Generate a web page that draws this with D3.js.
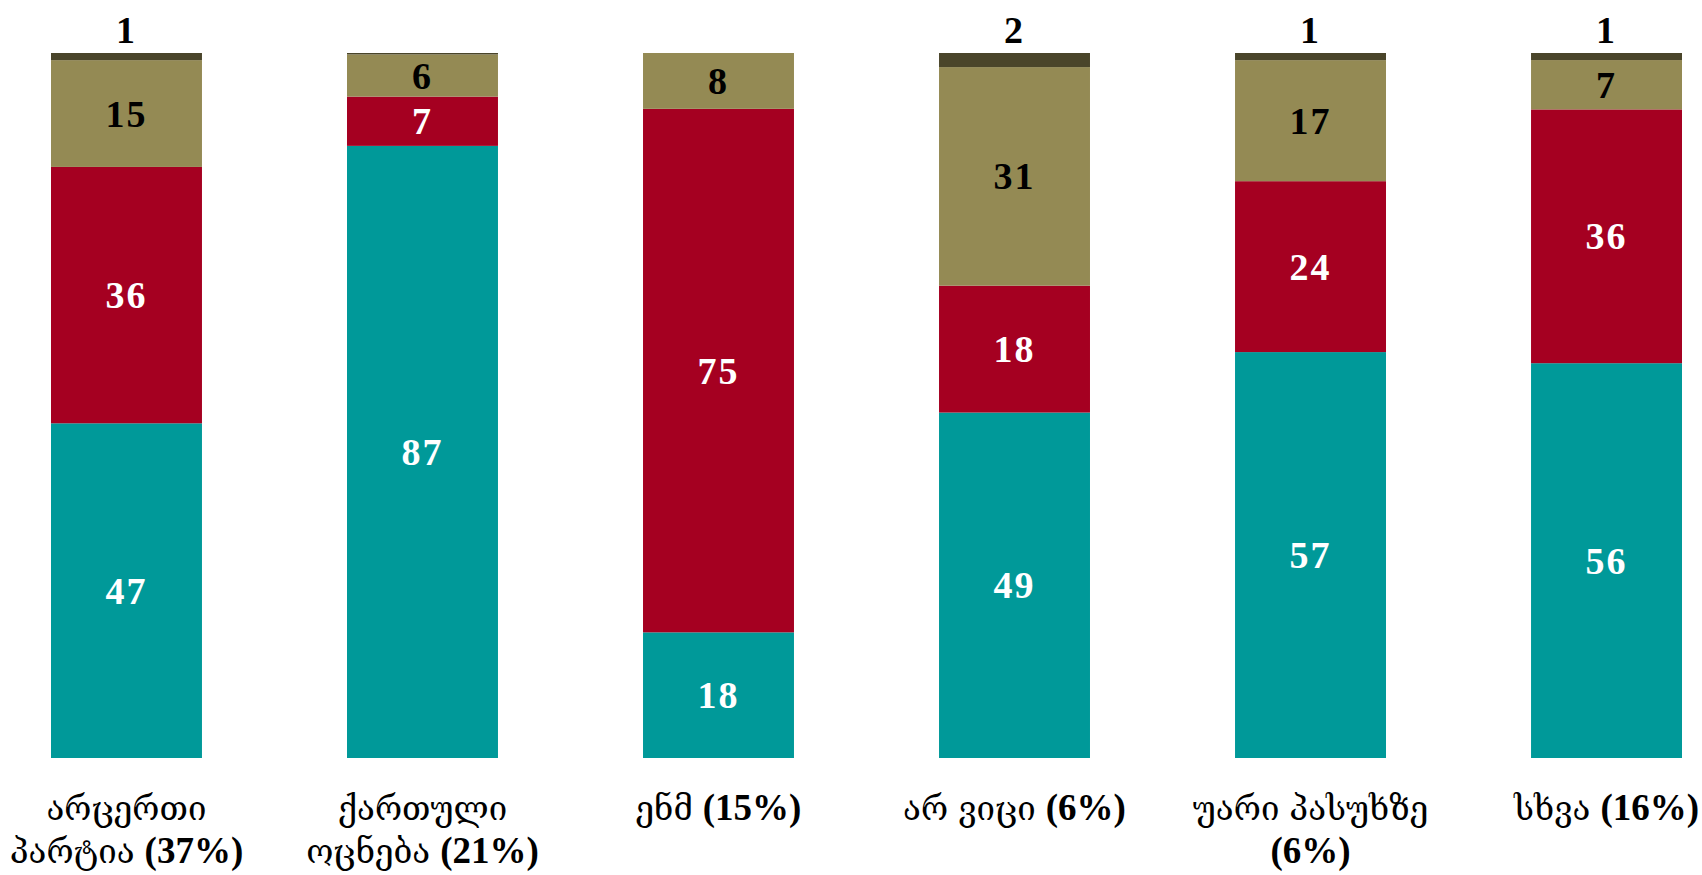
<!DOCTYPE html>
<html>
<head>
<meta charset="utf-8">
<script src="https://cdn.jsdelivr.net/npm/d3@7"></script>
<style>
  html, body { margin: 0; padding: 0; background: #ffffff; }
  svg text { font-family: "Liberation Serif", "DejaVu Serif", serif; }
</style>
</head>
<body>
<svg id="chart" width="1702" height="875"></svg>
<script>
// ---- data ----
const categories = [
  "არცერთი პარტია (37%)",
  "ქართული ოცნება (21%)",
  "ენმ (15%)",
  "არ ვიცი (6%)",
  "უარი პასუხზე (6%)",
  "სხვა (16%)"
];
const seriesKeys = ["s1", "s2", "s3", "s4"];
const s1 = [47, 87, 18, 49, 57, 56];   // teal
const s2 = [36, 7, 75, 18, 24, 36];    // red
const s3 = [15, 6, 8, 31, 17, 7];      // olive
const s4 = [1, 0.2, 0, 2, 1, 1];       // dark
const colors = ["#009999", "#A50021", "#948A54", "#4A452A"];
const labelColors = ["#ffffff", "#ffffff", "#000000", "#000000"];

const rows = categories.map((c, i) => ({ cat: c, s1: s1[i], s2: s2[i], s3: s3[i], s4: s4[i] }));

const svg = d3.select("#chart");

const x = d3.scaleBand().domain(categories).range([51, 1682]).paddingInner(0.49).paddingOuter(0);
const y = d3.scaleLinear().domain([0, 1]).range([758, 53]);

const stack = d3.stack().keys(seriesKeys).offset(d3.stackOffsetExpand);
const stacked = stack(rows);

const g = svg.append("g");
stacked.forEach((layer, li) => {
  g.selectAll(null).data(layer).enter().append("rect")
    .attr("x", d => x(d.data.cat))
    .attr("width", x.bandwidth())
    .attr("y", d => y(d[1]))
    .attr("height", d => Math.max(0, y(d[0]) - y(d[1])))
    .attr("fill", colors[li]);
});

// value labels
stacked.forEach((layer, li) => {
  layer.forEach(d => {
    const v = d.data[seriesKeys[li]];
    if (Math.round(v) < 1) return;
    const cx = x(d.data.cat) + x.bandwidth() / 2;
    const ty = li === 3 ? y(d[1]) - 10 : (y(d[0]) + y(d[1])) / 2 + 13;
    svg.append("text")
      .attr("x", cx).attr("y", ty)
      .attr("text-anchor", "middle")
      .attr("font-size", 38)
      .attr("font-weight", "bold")
      .attr("letter-spacing", 2)
      .attr("fill", labelColors[li])
      .text(Math.round(v));
  });
});

// category labels: Georgian words regular, percentages bold; greedy wrap
const maxW = 268;
const geoStyle = { family: '"DejaVu Serif", serif', weight: "normal", size: 33 };
const numStyle = { family: '"Liberation Serif", serif', weight: "bold", size: 37 };
function styleOf(tok) { return /^\(/.test(tok) ? numStyle : geoStyle; }
function measure(tok) {
  const st = styleOf(tok);
  const t = svg.append("text").attr("font-family", st.family).attr("font-weight", st.weight)
    .attr("font-size", st.size).text(tok);
  const w = t.node().getComputedTextLength();
  t.remove();
  return w;
}
const spaceW = 10;
categories.forEach(c => {
  const cx = x(c) + x.bandwidth() / 2;
  const toks = c.split(" ");
  const lines = [];
  let cur = [], curW = 0;
  toks.forEach(tk => {
    const w = measure(tk);
    const nw = cur.length ? curW + spaceW + w : w;
    if (cur.length && nw > maxW) {
      lines.push(cur); cur = [tk]; curW = w;
    } else { cur.push(tk); curW = nw; }
  });
  if (cur.length) lines.push(cur);
  lines.forEach((ln, li) => {
    const t = svg.append("text")
      .attr("x", cx).attr("y", 820 + li * 43)
      .attr("text-anchor", "middle")
      .attr("fill", "#000");
    ln.forEach((tk, k) => {
      const st = styleOf(tk);
      t.append("tspan")
        .attr("font-family", st.family)
        .attr("font-weight", st.weight)
        .attr("font-size", st.size)
        .attr("dx", k > 0 ? spaceW : 0)
        .text(tk);
    });
  });
});
</script>
</body>
</html>
